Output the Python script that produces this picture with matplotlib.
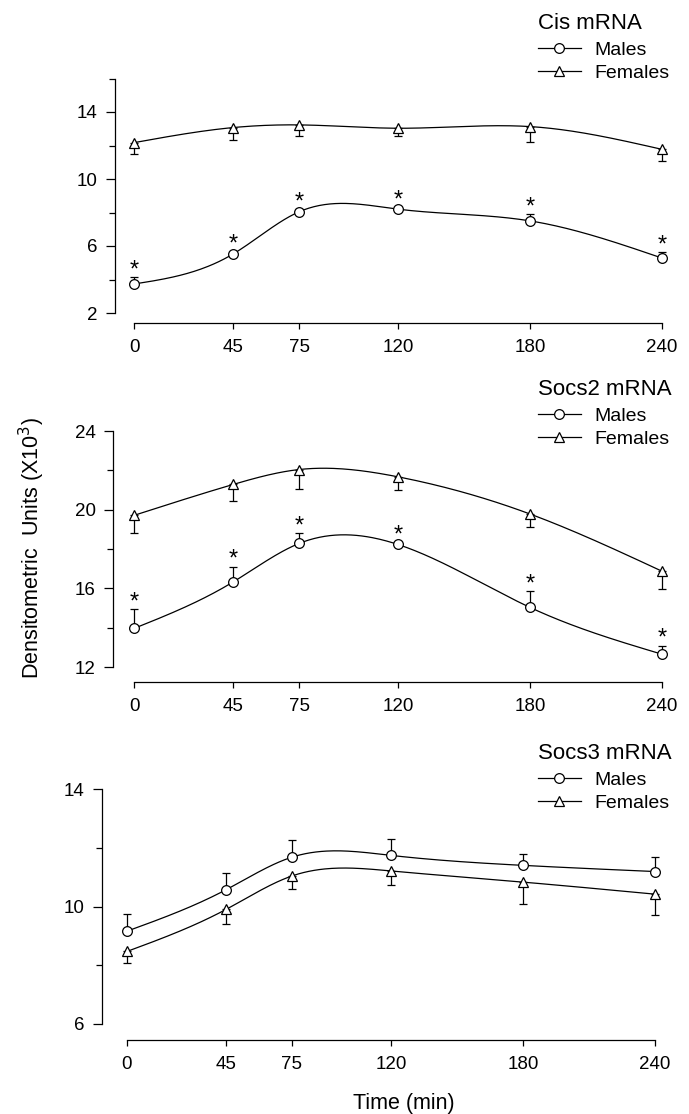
#!/usr/bin/env python3
"""Cis / Socs2 / Socs3 mRNA time course, males vs females"""

import numpy as np
import matplotlib

matplotlib.use("Agg")
import matplotlib.pyplot as plt
from matplotlib.lines import Line2D

matplotlib.rcParams["font.family"] = ["Liberation Sans", "DejaVu Sans"]

# data (densitometric units x10^3, mean and SEM)
TIME = [0, 45, 75, 120, 180, 240]
TIME_LABELS = ["0", "45", "75", "120", "180", "240"]

CIS_M = [3.73, 5.52, 8.04, 8.20, 7.50, 5.28]
CIS_M_ERR = [0.40, 0.15, 0.15, 0.10, 0.40, 0.34]
CIS_F = [12.17, 13.07, 13.23, 13.03, 13.13, 11.77]
CIS_F_ERR = [0.65, 0.74, 0.66, 0.46, 0.92, 0.69]
CIS_STARS = [True, True, True, True, True, True]

SOCS2_M = [13.96, 16.32, 18.28, 18.23, 15.03, 12.65]
SOCS2_M_ERR = [0.99, 0.78, 0.53, 0.10, 0.83, 0.44]
SOCS2_F = [19.71, 21.28, 22.04, 21.67, 19.78, 16.87]
SOCS2_F_ERR = [0.90, 0.82, 0.97, 0.65, 0.68, 0.90]
SOCS2_STARS = [True, True, True, True, True, True]

SOCS3_M = [9.16, 10.57, 11.68, 11.74, 11.40, 11.19]
SOCS3_M_ERR = [0.60, 0.58, 0.57, 0.56, 0.40, 0.51]
SOCS3_F = [8.47, 9.90, 11.04, 11.21, 10.83, 10.42]
SOCS3_F_ERR = [0.40, 0.49, 0.45, 0.48, 0.75, 0.70]
SOCS3_STARS = [False, False, False, False, False, False]

W, H = 689, 1114
LW = 0.9


def natural_spline(x, y, n=300):
    """SigmaPlot風の滑らかな線（自然3次スプライン）"""
    x = np.asarray(x, float)
    y = np.asarray(y, float)
    k = len(x)
    h = np.diff(x)
    A = np.zeros((k, k))
    b = np.zeros(k)
    A[0, 0] = A[-1, -1] = 1.0
    for i in range(1, k - 1):
        A[i, i - 1] = h[i - 1]
        A[i, i] = 2 * (h[i - 1] + h[i])
        A[i, i + 1] = h[i]
        b[i] = 6 * ((y[i + 1] - y[i]) / h[i] - (y[i] - y[i - 1]) / h[i - 1])
    M = np.linalg.solve(A, b)
    xs = np.linspace(x[0], x[-1], n)
    idx = np.clip(np.searchsorted(x, xs) - 1, 0, k - 2)
    x0, x1 = x[idx], x[idx + 1]
    hh = x1 - x0
    t0, t1 = x1 - xs, xs - x0
    ys = (M[idx] * t0 ** 3 + M[idx + 1] * t1 ** 3) / (6 * hh) \
        + (y[idx] / hh - M[idx] * hh / 6) * t0 \
        + (y[idx + 1] / hh - M[idx + 1] * hh / 6) * t1
    return xs, ys


def px_axes(left, right, bottom, top):
    """ピクセル座標でaxesを作る"""
    return fig.add_axes([left / W, 1 - bottom / H, (right - left) / W, (bottom - top) / H])


def draw_panel(ax, males, m_err, females, f_err, stars, ylim, major, minor,
               x0_px, left_px, right_px, xoff, title, leg_top):
    px_per_min = 2.2
    ax.set_xlim(-(x0_px - left_px) / px_per_min, (right_px - x0_px) / px_per_min)
    ax.set_ylim(*ylim)

    # 曲線
    for vals in (males, females):
        xs, ys = natural_spline(TIME, vals)
        ax.plot(xs, ys, color="black", lw=LW, zorder=2, clip_on=False)

    # 誤差棒（オスは上、メスは下）
    zeros = np.zeros(len(TIME))
    ax.errorbar(TIME, males, yerr=[zeros, m_err], fmt="none", ecolor="black",
                elinewidth=LW, capsize=3.2, capthick=LW, zorder=3, clip_on=False)
    ax.errorbar(TIME, females, yerr=[f_err, zeros], fmt="none", ecolor="black",
                elinewidth=LW, capsize=3.2, capthick=LW, zorder=3, clip_on=False)

    ax.plot(TIME, males, ls="none", marker="o", ms=7, mfc="white", mec="black",
            mew=LW, zorder=4, clip_on=False)
    ax.plot(TIME, females, ls="none", marker="^", ms=7.5, mfc="white", mec="black",
            mew=LW, zorder=4, clip_on=False)

    # 有意差の*
    for t, m, e, s in zip(TIME, males, m_err, stars):
        if s:
            ax.annotate("*", xy=(t, m + e), xytext=(0, -3), textcoords="offset points",
                        ha="center", va="bottom", fontsize=17)

    # 軸
    for side in ("top", "right"):
        ax.spines[side].set_visible(False)
    ax.spines["left"].set_bounds(*ylim)
    ax.spines["bottom"].set_bounds(0, 240)
    ax.spines["bottom"].set_position(("outward", xoff))
    for side in ("left", "bottom"):
        ax.spines[side].set_linewidth(LW)
    ax.set_yticks(major)
    ax.set_yticks(minor, minor=True)
    ax.set_xticks(TIME)
    ax.set_xticklabels(TIME_LABELS)
    ax.tick_params(axis="y", which="major", length=6.5, width=LW, pad=6, labelsize=13.5)
    ax.tick_params(axis="y", which="minor", length=4.3, width=LW)
    ax.tick_params(axis="x", length=4.3, width=LW, pad=7, labelsize=13.5)

    # 凡例
    handles = [
        Line2D([], [], color="black", lw=LW, marker="o", ms=7, mfc="white", mec="black", mew=LW),
        Line2D([], [], color="black", lw=LW, marker="^", ms=7.5, mfc="white", mec="black", mew=LW),
    ]
    leg = fig.legend(handles, ["Males", "Females"], title=title, loc="upper left",
                     bbox_to_anchor=(538 / W, 1 - leg_top / H), frameon=False,
                     fontsize=14, title_fontsize=16, alignment="left",
                     handlelength=2.2, handletextpad=0.7, labelspacing=0.3,
                     borderpad=0, borderaxespad=0, numpoints=1)
    leg._legend_box.sep = 5


fig = plt.figure(figsize=(W / 100, H / 100), dpi=100)

ax1 = px_axes(115, 670, 313, 78.5)
draw_panel(ax1, CIS_M, CIS_M_ERR, CIS_F, CIS_F_ERR, CIS_STARS, (2, 16),
           [2, 6, 10, 14], [4, 8, 12, 16], 134, 115, 670, 7.2, "Cis mRNA", 13)

ax2 = px_axes(113, 670, 667, 431)
draw_panel(ax2, SOCS2_M, SOCS2_M_ERR, SOCS2_F, SOCS2_F_ERR, SOCS2_STARS, (12, 24),
           [12, 16, 20, 24], [14, 18, 22], 134, 113, 670, 11.0, "Socs2 mRNA", 379)

ax3 = px_axes(102, 662, 1024, 789)
draw_panel(ax3, SOCS3_M, SOCS3_M_ERR, SOCS3_F, SOCS3_F_ERR, SOCS3_STARS, (6, 14),
           [6, 10, 14], [8, 12], 127, 102, 662, 11.5, "Socs3 mRNA", 743)

fig.text(32 / W, 1 - 548 / H, "Densitometric  Units (X10$^3$)", rotation=90,
         ha="center", va="center", fontsize=15.5)
fig.text(404 / W, 1 - 1103 / H, "Time (min)", ha="center", va="center", fontsize=15.5)

fig.savefig("out.png", dpi=100)
